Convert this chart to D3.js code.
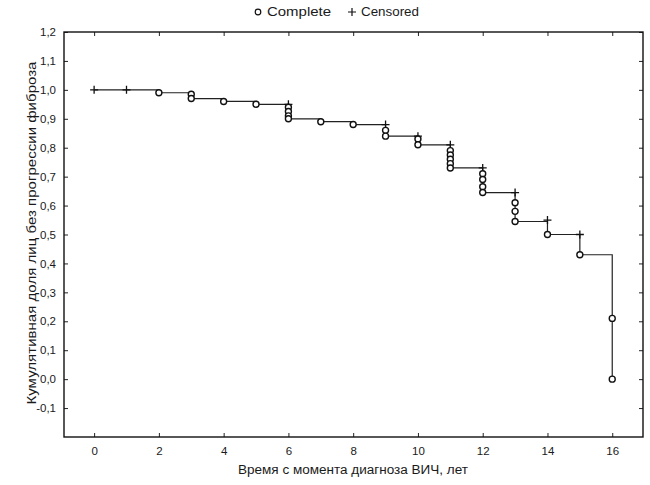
<!DOCTYPE html>
<html>
<head>
<meta charset="utf-8">
<script src="https://cdnjs.cloudflare.com/ajax/libs/d3/7.8.5/d3.min.js"></script>
<style>
  body { margin: 0; background: #fff; }
  svg { font-family: "Liberation Sans", Arial, sans-serif; }
</style>
</head>
<body>
<div id="chart"></div>
<script>
const WIDTH = 650;
const HEIGHT = 485;
const LEFT = 64;
const RIGHT = 643;
const TOP = 32;
const BOTTOM = 437;

// step curve: survival level after the events at each year
const years = [0, 1, 2, 3, 4, 5, 6, 7, 8, 9, 10, 11, 12, 13, 14, 15, 16];
const survival = [1.0, 1.0, 0.99, 0.97, 0.96, 0.95, 0.90, 0.89, 0.88, 0.84, 0.81, 0.73, 0.645, 0.545, 0.50, 0.43, 0.0];

// complete (event) markers: year and level
const completeYears = [2, 3, 3, 4, 5, 6, 6, 6, 6, 7, 8, 9, 9, 10, 10,
  11, 11, 11, 11, 11, 12, 12, 12, 12, 13, 13, 13, 14, 15, 16, 16];
const completeValues = [0.99, 0.985, 0.97, 0.96, 0.95, 0.94, 0.925, 0.91, 0.90, 0.89, 0.88, 0.86, 0.84, 0.83, 0.81,
  0.79, 0.775, 0.76, 0.745, 0.73, 0.71, 0.69, 0.665, 0.645, 0.61, 0.58, 0.545, 0.50, 0.43, 0.21, 0.0];

// censored markers
const censoredYears = [0, 1, 6, 9, 10, 11, 12, 13, 14, 15];
const censoredValues = [1.0, 1.0, 0.95, 0.88, 0.84, 0.81, 0.73, 0.645, 0.55, 0.50];

const xTicks = [0, 2, 4, 6, 8, 10, 12, 14, 16];
const yTicks = [-0.1, 0.0, 0.1, 0.2, 0.3, 0.4, 0.5, 0.6, 0.7, 0.8, 0.9, 1.0, 1.1, 1.2];

const legendLabels = ['Complete', 'Censored'];
const xTitle = 'Время с момента диагноза ВИЧ, лет';
const yTitle = 'Кумулятивная доля лиц без прогрессии фиброза';

const fmt = (v) => d3.format('.1f')(v).replace('.', ',').replace('−', '-');

let svg, xScale, yScale;

function buildScales() {
  xScale = d3.scaleLinear()
    .domain([-0.93, 16.95])
    .range([LEFT, RIGHT]);
  yScale = d3.scaleLinear()
    .domain([-0.2, 1.2])
    .range([BOTTOM, TOP]);
}

function buildAxes() {
  // ticks on all four sides point inward
  svg.append('g')
    .attr('transform', `translate(0, ${BOTTOM})`)
    .call(d3.axisBottom(xScale).tickValues(xTicks).tickSize(-4).tickPadding(10).tickFormat(d3.format('d')))
    .call(g => g.select('.domain').remove());
  svg.append('g')
    .attr('transform', `translate(0, ${TOP})`)
    .call(d3.axisTop(xScale).tickValues(xTicks).tickSize(-4).tickFormat(''))
    .call(g => g.select('.domain').remove());

  svg.append('g')
    .attr('transform', `translate(${LEFT}, 0)`)
    .call(d3.axisLeft(yScale).tickValues(yTicks).tickSize(-4).tickPadding(8).tickFormat(fmt))
    .call(g => g.select('.domain').remove());
  svg.append('g')
    .attr('transform', `translate(${RIGHT}, 0)`)
    .call(d3.axisRight(yScale).tickValues(yTicks).tickSize(-4).tickFormat(''))
    .call(g => g.select('.domain').remove());

  svg.selectAll('.tick line').attr('stroke', '#222').attr('stroke-width', 1);
  svg.selectAll('.tick text')
    .style('font-size', '11.5px')
    .style('fill', '#1a1a1a')
    .attr('font-family', null);

  svg.append('rect')
    .attr('x', LEFT)
    .attr('y', TOP)
    .attr('width', RIGHT - LEFT)
    .attr('height', BOTTOM - TOP)
    .attr('fill', 'none')
    .attr('stroke', '#111')
    .attr('stroke-width', 1.4);
}

function buildCurve() {
  let pts = years.map((t, i) => ({t: t, s: survival[i]}));
  let line = d3.line()
    .x((d) => xScale(d.t))
    .y((d) => yScale(d.s))
    .curve(d3.curveStepAfter);

  svg.append('path')
    .datum(pts)
    .attr('d', line)
    .attr('fill', 'none')
    .attr('stroke', '#222')
    .attr('stroke-width', 1.2);
}

function buildMarkers() {
  let cens = censoredYears.map((t, i) => ({t: t, s: censoredValues[i]}));
  svg.append('g')
    .selectAll('path')
    .data(cens)
    .enter()
    .append('path')
    .attr('d', (d) => {
      let x = xScale(d.t), y = yScale(d.s);
      return `M${x - 4},${y}H${x + 4}M${x},${y - 4}V${y + 4}`;
    })
    .attr('stroke', '#111')
    .attr('stroke-width', 1.3);

  let comp = completeYears.map((t, i) => ({t: t, s: completeValues[i]}));
  svg.append('g')
    .selectAll('circle')
    .data(comp)
    .enter()
    .append('circle')
    .attr('cx', (d) => xScale(d.t))
    .attr('cy', (d) => yScale(d.s))
    .attr('r', 3)
    .attr('fill', '#fff')
    .attr('stroke', '#111')
    .attr('stroke-width', 1.4);
}

function buildLegend() {
  let g = svg.append('g').attr('class', 'legend');
  g.append('circle')
    .attr('cx', 258)
    .attr('cy', 12)
    .attr('r', 2.8)
    .attr('fill', '#fff')
    .attr('stroke', '#111')
    .attr('stroke-width', 1.2);
  g.append('text')
    .attr('x', 267)
    .attr('y', 16)
    .attr('textLength', 64)
    .attr('lengthAdjust', 'spacingAndGlyphs')
    .style('font-size', '12px')
    .style('fill', '#1a1a1a')
    .text(legendLabels[0]);
  g.append('path')
    .attr('d', 'M348,12H356M352,8V16')
    .attr('stroke', '#111')
    .attr('stroke-width', 1.2);
  g.append('text')
    .attr('x', 361)
    .attr('y', 16)
    .attr('textLength', 58)
    .attr('lengthAdjust', 'spacingAndGlyphs')
    .style('font-size', '12px')
    .style('fill', '#1a1a1a')
    .text(legendLabels[1]);
}

function buildTitles() {
  svg.append('text')
    .attr('x', 353)
    .attr('y', 474)
    .attr('text-anchor', 'middle')
    .attr('textLength', 230)
    .attr('lengthAdjust', 'spacingAndGlyphs')
    .style('font-size', '12.5px')
    .style('fill', '#1a1a1a')
    .text(xTitle);

  svg.append('text')
    .attr('transform', `translate(36, 233) rotate(-90)`)
    .attr('text-anchor', 'middle')
    .attr('textLength', 343)
    .attr('lengthAdjust', 'spacingAndGlyphs')
    .style('font-size', '12.5px')
    .style('fill', '#1a1a1a')
    .text(yTitle);
}

function buildChart(selector) {
  svg = d3.select(selector).append('svg')
    .attr('width', WIDTH)
    .attr('height', HEIGHT);

  buildScales();
  buildAxes();
  buildCurve();
  buildMarkers();
  buildLegend();
  buildTitles();
}

buildChart('#chart');
</script>
</body>
</html>
